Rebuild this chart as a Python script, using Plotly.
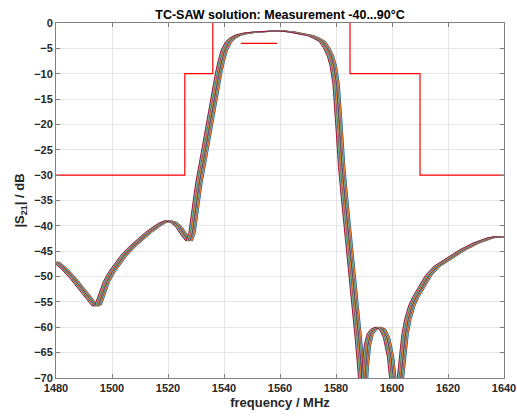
import plotly.graph_objects as go

base_freq = [1480, 1483, 1486, 1489, 1492, 1494, 1495, 1496, 1498, 1500, 1502, 1504, 1507,
             1510, 1513, 1516, 1518, 1520, 1522, 1524, 1526, 1527.5, 1528.5, 1529.5, 1531,
             1533, 1535, 1536.5, 1538, 1539, 1540, 1541.5, 1543, 1545, 1548, 1552, 1556,
             1560, 1564, 1568, 1571, 1573, 1575, 1576.5, 1578, 1579, 1580, 1581, 1582,
             1583, 1584, 1585, 1586, 1587, 1588, 1589, 1589.6, 1590.4, 1591.2, 1592.2,
             1593.5, 1595, 1596.5, 1598, 1599.5, 1600.6, 1601.6, 1602.6, 1603.6, 1604.6,
             1605.6, 1607, 1608.5, 1610, 1613, 1616, 1620, 1625, 1630, 1635, 1638, 1640]
base_db = [-47.1, -48.5, -50.3, -52.3, -54.5, -55.8, -55.6, -54.0, -51.0, -49.0, -47.4,
           -46.0, -44.2, -42.7, -41.3, -40.1, -39.4, -39.0, -39.3, -40.3, -42.0, -43.0,
           -41.5, -37.5, -31.5, -25.5, -19.0, -14.5, -10.0, -7.5, -5.5, -3.8, -3.0, -2.4,
           -2.0, -1.75, -1.6, -1.55, -1.75, -2.1, -2.5, -3.0, -3.6, -4.8, -6.5, -8.5,
           -12.0, -20.0, -28.5, -34.5, -40.0, -45.3, -51.0, -56.5, -62.5, -69.0, -75.0,
           -68.0, -63.5, -61.3, -60.4, -60.0, -60.3, -62.0, -66.0, -72.0, -78.0, -72.0,
           -66.0, -61.5, -58.5, -55.8, -54.0, -52.5, -49.8, -48.0, -46.5, -44.8, -43.4,
           -42.4, -42.1, -42.3]

# Temperatures and the frequency shift of each measured trace (MHz)
temps = [-40, -30, -20, -10, 0, 10, 20, 30, 40, 50, 60, 70, 80, 90]
freq_shift = [1.2, 1.0, 0.8, 0.62, 0.45, 0.3, 0.15, 0.0, -0.15, -0.32, -0.5, -0.7, -0.9, -1.1]

# Specification mask
mask_freq = [1480, 1526, 1526, 1536, 1536, None, 1585, 1585, 1610, 1610, 1640]
mask_db = [-30, -30, -10, -10, 0, None, 0, -10, -10, -30, -30]
il_freq = [1546, 1559]
il_db = [-4, -4]

colors = ["#0072BD", "#D95319", "#EDB120", "#7E2F8E", "#77AC30", "#4DBEEE", "#A2142F"]

fig = go.Figure()
for i, (t, s) in enumerate(zip(temps, freq_shift)):
    fig.add_trace(go.Scatter(
        x=[f + s for f in base_freq], y=base_db, mode="lines",
        line=dict(color=colors[i % len(colors)], width=1),
        name=f"{t} °C", showlegend=False, hoverinfo="skip"))

fig.add_trace(go.Scatter(x=mask_freq, y=mask_db, mode="lines",
                         line=dict(color="#FF0000", width=1.2), showlegend=False,
                         hoverinfo="skip"))
fig.add_trace(go.Scatter(x=il_freq, y=il_db, mode="lines",
                         line=dict(color="#FF0000", width=1.2), showlegend=False,
                         hoverinfo="skip"))

fam = "Liberation Sans, Arial, sans-serif"
fig.update_layout(
    width=517, height=417,
    margin=dict(l=56, r=13, t=23, b=39, autoexpand=False),
    paper_bgcolor="white", plot_bgcolor="white",
    hovermode=False,
    font=dict(family=fam, size=11, color="#262626"),
    title=dict(text="<b>TC-SAW solution: Measurement -40...90°C</b>",
               x=0.5, xref="paper", xanchor="center", y=0.964, yanchor="middle",
               font=dict(family=fam, size=12.5, color="#000000")),
)
axis_common = dict(showgrid=True, gridcolor="#E6E6E6", gridwidth=1,
                   showline=True, linecolor="#808080", linewidth=1, mirror="ticks",
                   ticks="inside", ticklen=4, tickcolor="#808080", zeroline=False,
                   ticklabeloverflow="allow",
                   tickfont=dict(family=fam, size=11, color="#262626", weight="bold"))
fig.update_xaxes(range=[1480, 1640], tickvals=list(range(1480, 1641, 20)),
                 title=dict(text="<b>frequency / MHz</b>", standoff=4,
                            font=dict(family=fam, size=13, color="#262626")),
                 automargin=False, **axis_common)
fig.update_yaxes(range=[-70, 0], tickvals=list(range(-70, 1, 5)),
                 title=dict(text="<b>|S<sub>21</sub>| / dB</b>", standoff=6,
                            font=dict(family=fam, size=13, color="#262626")),
                 automargin=False, **axis_common)

# remove the default page margin so the figure fills the window exactly
fig.write_html("out.html", config={"displayModeBar": False},
               post_script="document.body.style.margin='0';document.body.style.overflow='hidden';")
